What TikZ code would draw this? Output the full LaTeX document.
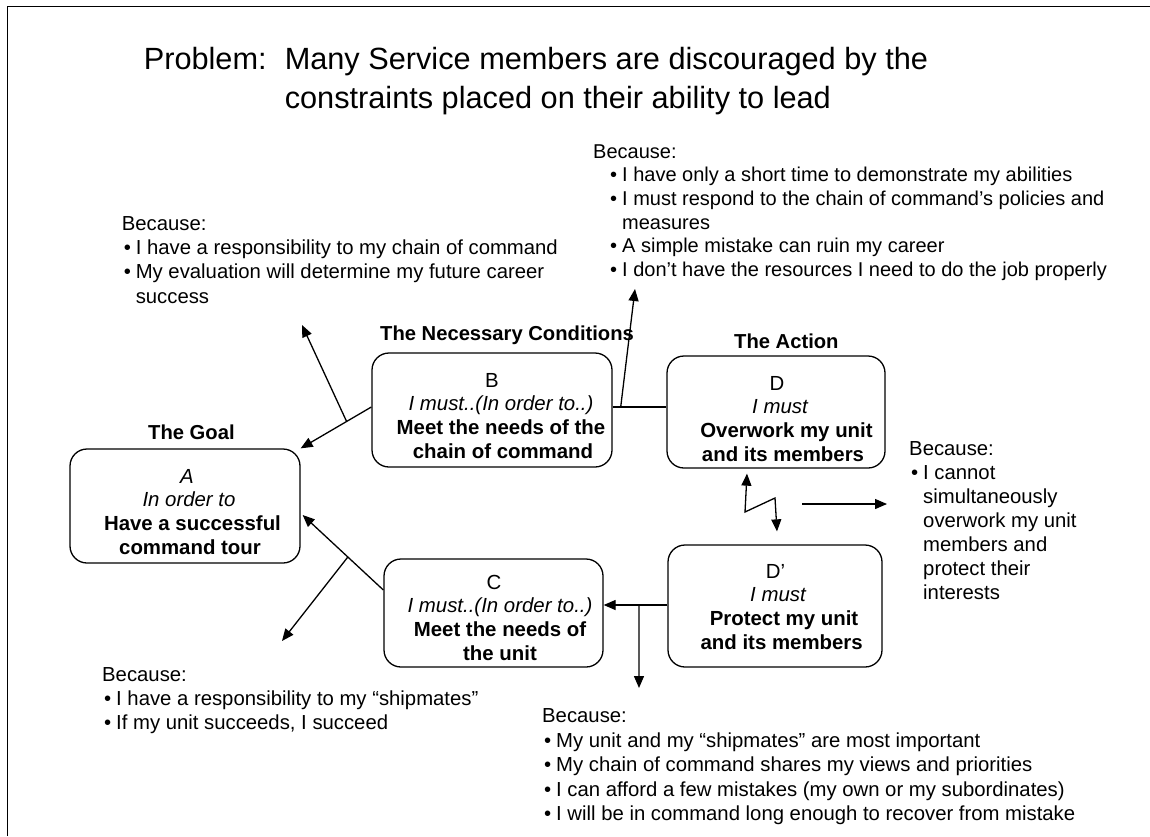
\documentclass[tikz,border=0pt]{standalone}
\usepackage{fontspec}
\setmainfont{Liberation Sans}
\usetikzlibrary{arrows.meta,calc}

% one centred line of a box text, optionally nudged sideways
\newcommand\cl[2][0pt]{\hbox to 0pt{\hss\kern#1\kern#1#2\hss}}
% bullet line and its continuation, with a left indent
\newcommand\bl[2]{\hbox{\kern#1\hbox to 12pt{•\hss}#2}}
\newcommand\cont[2]{\hbox{\kern#1\kern12pt #2}}

\tikzset{
  box/.style={draw, rounded corners=17pt, line width=1.3pt, inner sep=0pt},
  conn/.style={line width=1.3pt},
  tip/.tip={Triangle[length=12pt,width=10pt]},
  arr/.style={conn, -tip},
  boxtext/.style={inner sep=0pt, anchor=base, font=\fontsize{20.4}{23.8}\selectfont},
  lbl/.style={inner sep=0pt, anchor=base west, font=\bfseries\fontsize{20.2}{24}\selectfont},
  reason/.style={inner sep=0pt, anchor=base west, font=\fontsize{20.3}{24.4}\selectfont},
}

\begin{document}
\begin{tikzpicture}[x=1pt,y=-1pt]
\useasboundingbox (0,0) rectangle (1150,836);
\fill[white] (0,0) rectangle (1150,836);

% slide frame
\draw[line width=1pt] (7,836) -- (7,6) -- (1150,6);

% title
\node[inner sep=0pt, anchor=base west, font=\fontsize{30.7}{39}\selectfont] (title) at (143.6,69)
  {\vtop{\hbox{\hbox to 141pt{Problem:\hss}Many Service members are discouraged by the}
         \hbox{\kern141pt constraints placed on their ability to lead}}};

% column headings
\node[lbl] (goal) at (148,439) {The Goal};
\node[lbl] (nec) at (380,340) {The Necessary Conditions};
\node[lbl] (act) at (734,348) {The Action};

% boxes
\node[box, minimum width=230pt, minimum height=114pt] (A) at (185,506) {};
\node[box, minimum width=240pt, minimum height=114pt] (B) at (492,410) {};
\node[box, minimum width=219pt, minimum height=108pt] (C) at (493.5,613) {};
\node[box, minimum width=218pt, minimum height=112pt] (D) at (776,412) {};
\node[box, minimum width=214pt, minimum height=122pt] (Dp) at (775,606) {};

% box texts
\node[boxtext] (At) at (190,483) {\vtop{\cl[-3pt]{\itshape A}\cl[-1pt]{\itshape In order to}%
  \cl[2.5pt]{\bfseries Have a successful}\cl{\bfseries command tour}}};
\node[boxtext] (Bt) at (501,387) {\vtop{\cl[-9pt]{B}\cl{\itshape I must..(In order to..)}%
  \cl{\bfseries Meet the needs of the}\cl[2pt]{\bfseries chain of command}}};
\node[boxtext] (Ct) at (500,589) {\vtop{\cl[-6pt]{C}\cl{\itshape I must..(In order to..)}%
  \cl{\bfseries Meet the needs of}\cl{\bfseries the unit}}};
\node[boxtext] (Dt) at (782,390) {\vtop{\cl[-5pt]{D}\cl[-2pt]{\itshape I must}%
  \cl[4.5pt]{\bfseries Overwork my unit}\cl[1pt]{\bfseries and its members}}};
\node[boxtext] (Dpt) at (780,578) {\vtop{\cl[-4.5pt]{D’}\cl[-2pt]{\itshape I must}%
  \cl[4pt]{\bfseries Protect my unit}\cl[1.7pt]{\bfseries and its members}}};

% reasons
\node[reason] (rB) at (121.6,230) {\vtop{\hbox{Because:}%
  \bl{2pt}{I have a responsibility to my chain of command}%
  \bl{2pt}{My evaluation will determine my future career}%
  \cont{2pt}{success}}};
\node[reason, font=\fontsize{20}{23.7}\selectfont] (rBD) at (593,158) {\vtop{\hbox{Because:}%
  \bl{17pt}{I have only a short time to demonstrate my abilities}%
  \bl{17pt}{I must respond to the chain of command’s policies and}%
  \cont{17pt}{measures}%
  \bl{17pt}{A simple mistake can ruin my career}%
  \bl{17pt}{I don’t have the resources I need to do the job properly}}};
\node[reason, font=\fontsize{20.3}{24}\selectfont] (rDDp) at (909,455) {\vtop{\hbox{Because:}%
  \bl{2pt}{I cannot}%
  \cont{2pt}{simultaneously}%
  \cont{2pt}{overwork my unit}%
  \cont{2pt}{members and}%
  \cont{2pt}{protect their}%
  \cont{2pt}{interests}}};
\node[reason] (rC) at (102,681) {\vtop{\hbox{Because:}%
  \bl{2pt}{I have a responsibility to my “shipmates”}%
  \bl{2pt}{If my unit succeeds, I succeed}}};
\node[reason, font=\fontsize{20.3}{24.5}\selectfont] (rCDp) at (542,722.5) {\vtop{\hbox{Because:}%
  \bl{2pt}{My unit and my “shipmates” are most important}%
  \bl{2pt}{My chain of command shares my views and priorities}%
  \bl{2pt}{I can afford a few mistakes (my own or my subordinates)}%
  \bl{2pt}{I will be in command long enough to recover from mistake}}};

% B -> A, with the assumption arrow
\coordinate (bW) at ($(B.west)+(0,-3)$);
\draw[arr] (bW) -- (A.north east);
\coordinate (jBA) at ($(bW)!0.35!(A.north east)$);
\coordinate (upL) at (302,325);
\draw[arr] (jBA) -- (upL);

% B -- D, with the assumption arrow
\coordinate (bE) at ($(B.east)+(0,-3)$);
\coordinate (dW) at (bE -| D.west);
\draw[conn] (bE) -- (dW);
\coordinate (jBD) at ($(bE)!0.15!(dW)$);
\coordinate (upR) at (635,289);
\draw[arr] (jBD) -- (upR);

% C -> A, with the assumption arrow
\coordinate (cW) at ($(C.west)+(0,-23)$);
\coordinate (aE) at ($(A.east)+(2,9)$);
\draw[arr] (cW) -- (aE);
\coordinate (jCA) at ($(cW)!0.44!(aE)$);
\coordinate (dnL) at (282,641);
\draw[arr] (jCA) -- (dnL);

% D' -> C, with the assumption arrow
\coordinate (dpW) at ($(Dp.west)+(0,-1)$);
\coordinate (cE) at (dpW -| C.east);
\draw[arr] (dpW) -- (cE);
\coordinate (jDC) at ($(dpW)!0.446!(cE)$);
\coordinate (dnR) at (639,688);
\draw[arr] (jDC) -- (dnR);

% conflict between D and D'
\coordinate (z1) at ($(D.south)+(-29,5)$);
\coordinate (z2) at (745,512);
\coordinate (z3) at (775,498);
\coordinate (z4) at ($(Dp.north)+(2,-13)$);
\draw[conn, tip-tip] (z1) -- (z2) -- (z3) -- (z4);
\coordinate (hs) at (802,504);
\coordinate (he) at (887,504);
\draw[arr] (hs) -- (he);
\end{tikzpicture}
\end{document}
